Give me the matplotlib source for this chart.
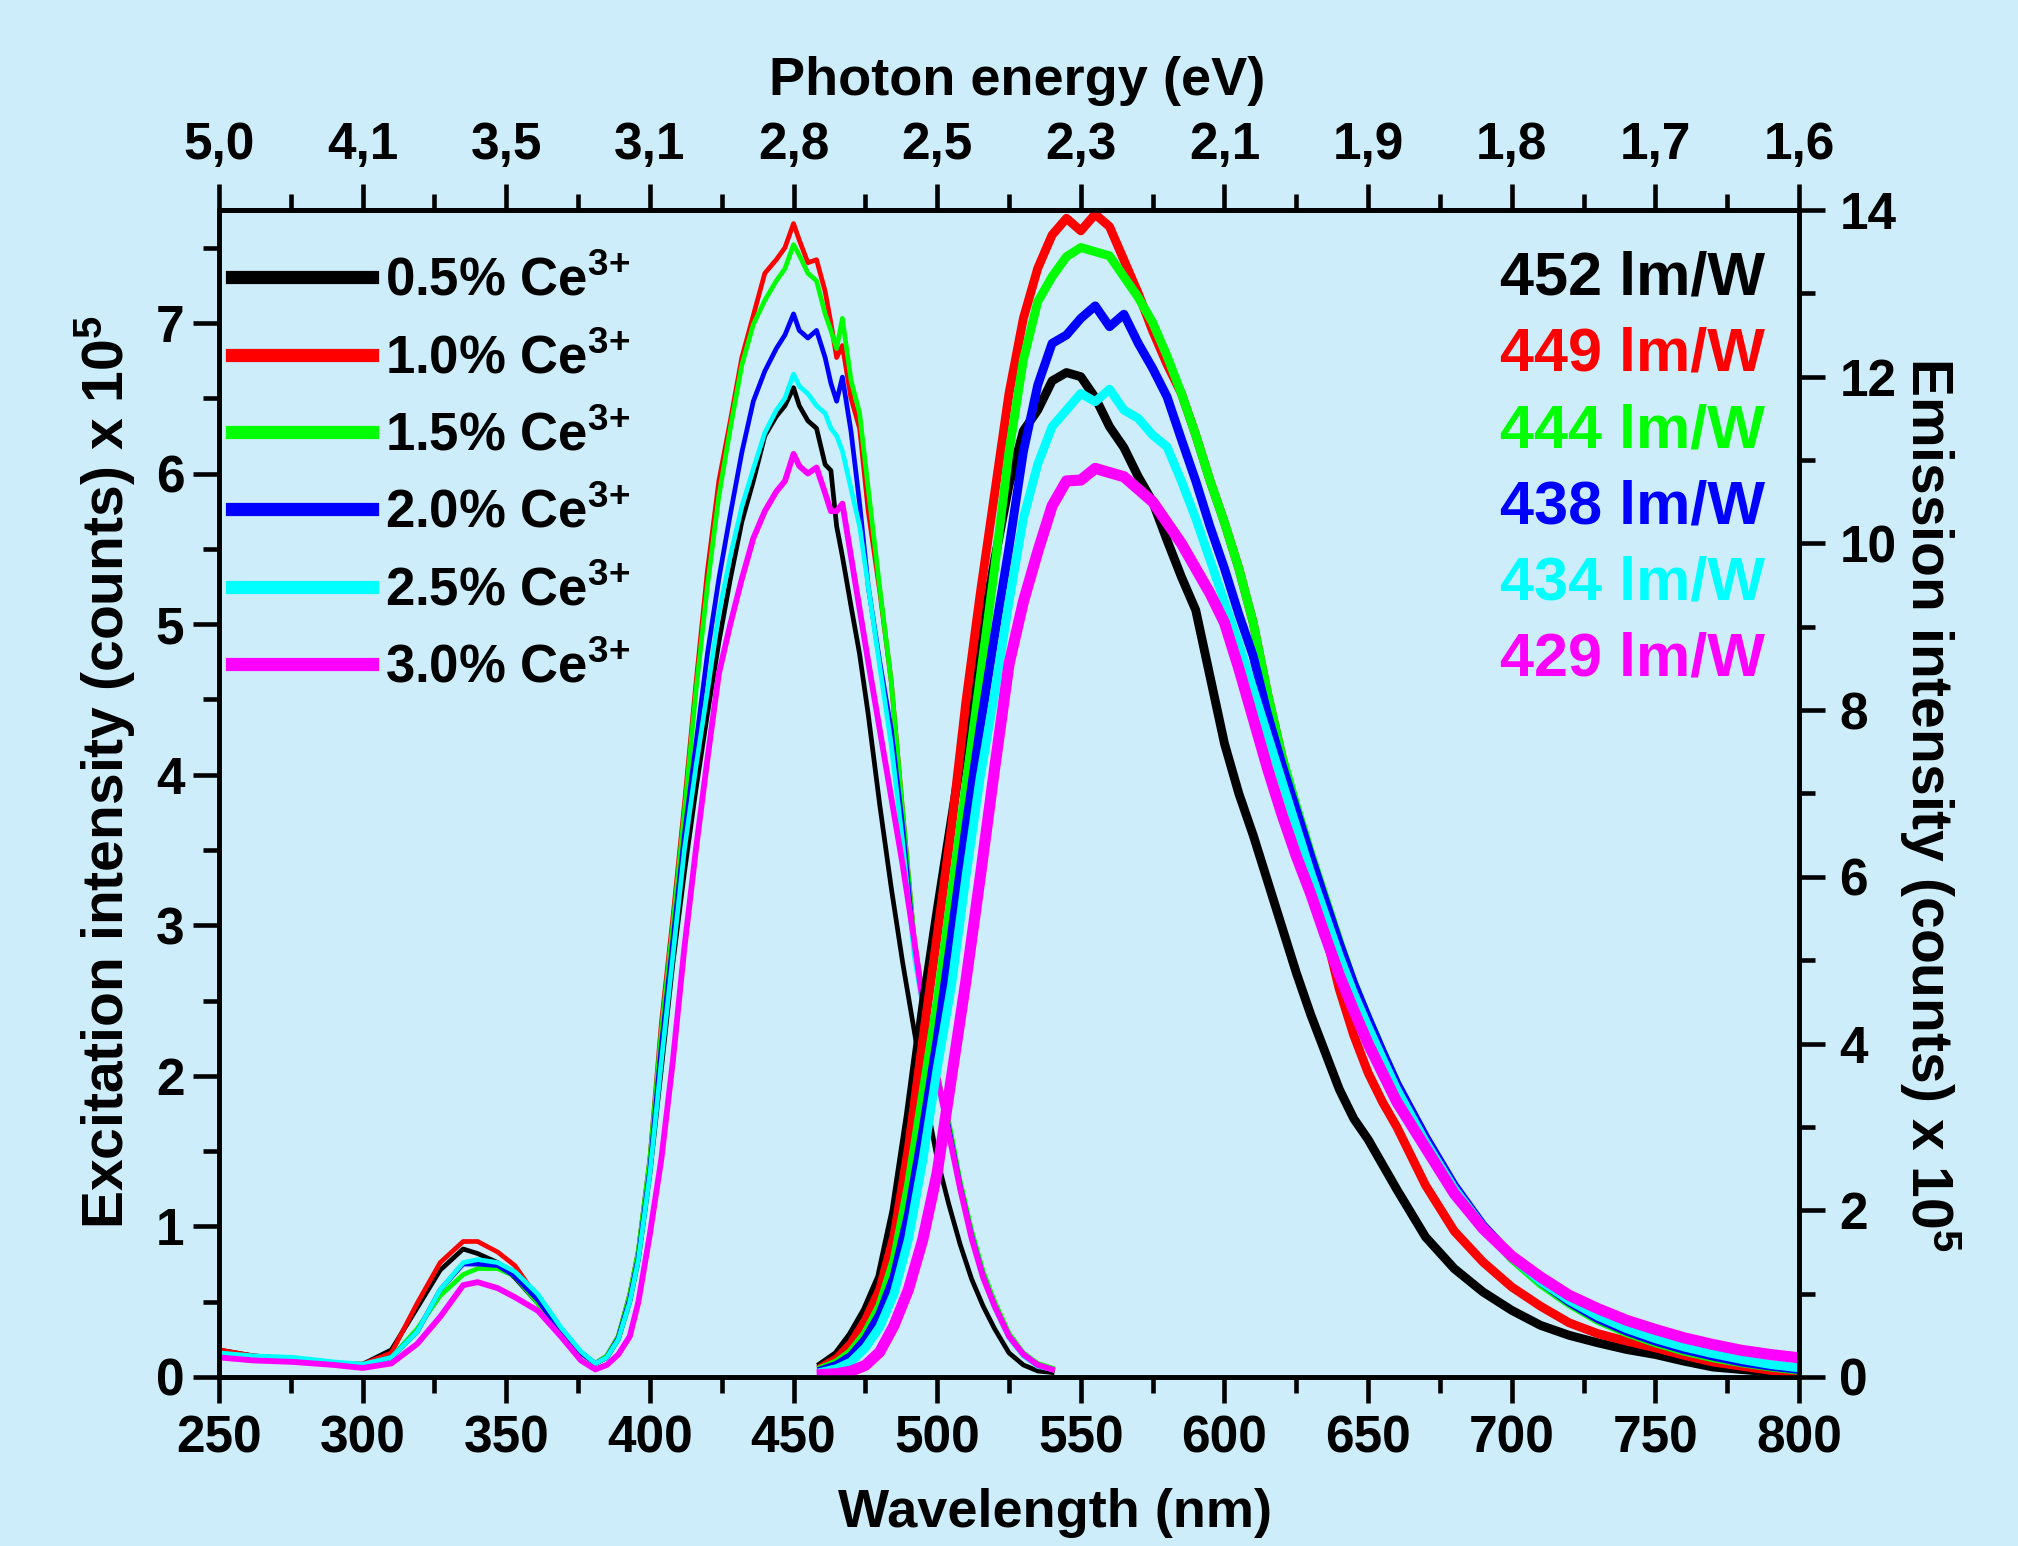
import matplotlib
matplotlib.use("Agg")
import matplotlib.pyplot as plt
from matplotlib.ticker import MultipleLocator
from matplotlib.lines import Line2D

plt.rcParams['font.family'] = ['Liberation Sans', 'DejaVu Sans']
plt.rcParams['font.weight'] = 'bold'
plt.rcParams['mathtext.fontset'] = 'custom'
plt.rcParams['mathtext.rm'] = 'Liberation Sans:bold'
plt.rcParams['mathtext.bf'] = 'Liberation Sans:bold'

bg = '#ccedf9'

# --- data ---
labels = ['0.5%', '1.0%', '1.5%', '2.0%', '2.5%', '3.0%']
colors = ['#000000', '#ff0000', '#00ff00', '#0000ff', '#00ffff', '#ff00ff']
efficacy = [452, 449, 444, 438, 434, 429]  # lm/W

# excitation spectra (left axis, x 10^5 counts)
ex_wl = [250, 262, 276, 290, 300, 310, 319, 327, 335, 340, 347, 353, 361, 369, 376, 381,
         385, 389, 393, 396, 400, 404, 408, 412, 416, 420, 424, 428, 432, 436, 440, 444, 447, 450,
         452, 455, 458, 461, 463, 465, 467, 470, 473, 476, 480, 484, 488, 492, 496, 500, 504, 508,
         512, 516, 520, 525, 530, 535, 540]
ex_black = [.18, .14, .12, .09, .085, .18, .46, .71, .85, .82, .76, .66, .49, .29, .16, .09,
            .13, .25, .50, .78, 1.35, 2.05, 2.75, 3.35, 3.9, 4.4, 4.88, 5.3, 5.68, 5.95, 6.25, 6.38, 6.45, 6.57,
            6.45, 6.35, 6.30, 6.06, 6.02, 5.65, 5.45, 5.12, 4.8, 4.4, 3.8, 3.25, 2.75, 2.3, 1.85, 1.45, 1.15, 0.88,
            0.65, 0.47, 0.32, 0.16, 0.08, 0.04, 0.03]
ex_red = [.18, .14, .12, .09, .085, .16, .49, .76, .90, .90, .83, .74, .52, .30, .16, .09,
          .14, .27, .55, .84, 1.45, 2.35, 3.05, 3.8, 4.6, 5.35, 5.95, 6.35, 6.77, 7.05, 7.33, 7.42, 7.5, 7.66,
          7.55, 7.40, 7.42, 7.21, 7.0, 6.77, 6.85, 6.5, 6.3, 5.75, 5.22, 4.62, 3.75, 2.9, 2.4, 2.0, 1.68, 1.28,
          0.95, 0.68, 0.48, 0.27, 0.15, 0.08, 0.05]
ex_green = [.16, .13, .11, .09, .08, .13, .32, .54, .68, .72, .72, .67, .49, .29, .16, .09,
            .14, .27, .55, .84, 1.45, 2.3, 3.0, 3.75, 4.55, 5.25, 5.85, 6.3, 6.72, 6.99, 7.15, 7.28, 7.36, 7.52,
            7.45, 7.33, 7.28, 7.06, 6.95, 6.83, 7.03, 6.62, 6.40, 5.90, 5.24, 4.62, 3.75, 2.9, 2.4, 2.0, 1.7, 1.3,
            0.97, 0.7, 0.5, 0.29, 0.16, 0.09, 0.06]
ex_blue = [.16, .13, .11, .09, .08, .13, .30, .58, .75, .75, .74, .67, .51, .30, .16, .09,
           .13, .26, .52, .80, 1.38, 2.2, 2.9, 3.6, 4.2, 4.8, 5.3, 5.73, 6.14, 6.48, 6.68, 6.83, 6.92, 7.06,
           6.95, 6.90, 6.95, 6.77, 6.6, 6.48, 6.64, 6.28, 5.8, 5.25, 4.75, 4.3, 3.65, 2.85, 2.38, 1.98, 1.66, 1.27,
           0.94, 0.67, 0.47, 0.27, 0.15, 0.08, 0.05]
ex_cyan = [.16, .14, .13, .10, .085, .13, .30, .58, .76, .78, .76, .70, .55, .33, .17, .09,
           .13, .25, .50, .78, 1.35, 2.1, 2.8, 3.5, 4.05, 4.55, 5.07, 5.45, 5.78, 6.03, 6.27, 6.42, 6.5, 6.66,
           6.58, 6.53, 6.45, 6.40, 6.30, 6.25, 6.15, 5.9, 5.65, 5.25, 4.72, 4.2, 3.55, 2.8, 2.35, 1.96, 1.63, 1.25,
           0.93, 0.66, 0.46, 0.26, 0.14, 0.07, 0.05]
ex_magenta = [.13, .11, .10, .08, .06, .09, .22, .40, .61, .63, .59, .53, .44, .27, .11, .05,
              .08, .15, .27, .50, .95, 1.45, 2.1, 2.85, 3.5, 4.1, 4.67, 5.0, 5.3, 5.57, 5.75, 5.88, 5.95, 6.13,
              6.05, 6.0, 6.04, 5.87, 5.75, 5.75, 5.80, 5.45, 5.1, 4.75, 4.3, 3.85, 3.4, 2.9, 2.35, 2.0, 1.62, 1.25,
              0.92, 0.66, 0.47, 0.27, 0.15, 0.08, 0.05]

# emission spectra (right axis, x 10^5 counts)
em_wl = [460, 465, 470, 475, 480, 485, 490, 495, 500, 505, 510, 515, 520, 525, 530, 535, 540, 545,
         550, 555, 560, 565, 570, 575, 580, 585, 590, 595, 600, 605, 610, 615, 620, 625, 630, 635,
         640, 645, 650, 655, 660, 670, 680, 690, 700, 710, 720, 730, 740, 750, 760, 770, 780, 790, 800]
em_black = [0.15, 0.27, 0.5, 0.8, 1.2, 2.0, 3.15, 4.45, 5.6, 6.7, 7.8, 8.8, 9.8, 10.7, 11.35, 11.6, 11.95, 12.05,
            12.0, 11.75, 11.4, 11.15, 10.8, 10.5, 10.04, 9.6, 9.2, 8.4, 7.6, 7.0, 6.5, 5.95, 5.4, 4.85, 4.35, 3.9,
            3.45, 3.1, 2.85, 2.55, 2.25, 1.68, 1.3, 1.02, 0.8, 0.62, 0.5, 0.41, 0.33, 0.27, 0.19, 0.12, 0.09, 0.06, 0.04]
em_red = [0.12, 0.22, 0.4, 0.68, 1.05, 1.7, 2.75, 4.05, 5.3, 6.6, 8.1, 9.4, 10.6, 11.8, 12.7, 13.3, 13.7, 13.9,
          13.75, 13.95, 13.8, 13.4, 13.0, 12.55, 12.15, 11.8, 11.3, 10.75, 10.25, 9.7, 9.05, 8.2, 7.45, 6.75, 6.0, 5.35,
          4.65, 4.1, 3.65, 3.3, 3.0, 2.3, 1.75, 1.38, 1.08, 0.85, 0.65, 0.52, 0.43, 0.35, 0.26, 0.18, 0.13, 0.08, 0.04]
em_green = [0.1, 0.17, 0.3, 0.52, 0.85, 1.4, 2.3, 3.4, 4.5, 5.8, 7.1, 8.4, 9.7, 11.1, 12.2, 12.9, 13.2, 13.44,
            13.55, 13.5, 13.45, 13.2, 12.95, 12.65, 12.25, 11.8, 11.3, 10.75, 10.25, 9.7, 9.05, 8.2, 7.45, 6.85, 6.28, 5.75,
            5.22, 4.72, 4.3, 3.9, 3.52, 2.85, 2.28, 1.8, 1.42, 1.12, 0.88, 0.68, 0.53, 0.41, 0.31, 0.23, 0.17, 0.12, 0.08]
em_blue = [0.08, 0.14, 0.25, 0.45, 0.75, 1.2, 1.95, 2.95, 4.05, 5.3, 6.6, 7.8, 8.9, 9.95, 11.1, 11.9, 12.4, 12.5,
           12.7, 12.85, 12.6, 12.75, 12.4, 12.1, 11.76, 11.25, 10.75, 10.2, 9.7, 9.15, 8.65, 7.95, 7.35, 6.8, 6.25, 5.72,
           5.2, 4.72, 4.3, 3.9, 3.52, 2.88, 2.3, 1.82, 1.45, 1.15, 0.9, 0.7, 0.55, 0.43, 0.33, 0.25, 0.18, 0.13, 0.09]
em_cyan = [0.06, 0.1, 0.18, 0.35, 0.6, 1.0, 1.65, 2.6, 3.7, 4.7, 6.0, 7.2, 8.2, 9.3, 10.3, 10.95, 11.4, 11.6,
           11.8, 11.7, 11.85, 11.6, 11.5, 11.3, 11.16, 10.75, 10.3, 9.8, 9.3, 8.8, 8.25, 7.7, 7.15, 6.6, 6.05, 5.55,
           5.05, 4.6, 4.2, 3.82, 3.45, 2.82, 2.26, 1.8, 1.44, 1.15, 0.92, 0.73, 0.58, 0.46, 0.36, 0.28, 0.21, 0.15, 0.11]
em_magenta = [0.03, 0.04, 0.07, 0.14, 0.3, 0.62, 1.05, 1.65, 2.45, 3.6, 4.75, 6.0, 7.3, 8.55, 9.3, 9.9, 10.45, 10.75,
              10.76, 10.9, 10.85, 10.8, 10.65, 10.5, 10.25, 10.0, 9.7, 9.4, 9.05, 8.5, 7.9, 7.3, 6.75, 6.25, 5.8, 5.3,
              4.82, 4.4, 4.0, 3.65, 3.3, 2.75, 2.2, 1.78, 1.45, 1.2, 0.98, 0.82, 0.68, 0.57, 0.47, 0.39, 0.32, 0.27, 0.23]

ex_all = [ex_black, ex_red, ex_green, ex_blue, ex_cyan, ex_magenta]
em_all = [em_black, em_red, em_green, em_blue, em_cyan, em_magenta]

wl_ticks = [250, 300, 350, 400, 450, 500, 550, 600, 650, 700, 750, 800]
ev_labels = [f"{1240 / w:.1f}".replace('.', ',') for w in wl_ticks]

# --- figure ---
fig = plt.figure(figsize=(20.18, 15.46), dpi=100, facecolor=bg)
ax = fig.add_axes([219 / 2018, 1 - 1377 / 1546, (1799 - 219) / 2018, (1377 - 210) / 1546])
ax.set_facecolor(bg)
ax2 = ax.twinx()

for i in range(6):
    lw = 4.2 if i == 5 else 3.4
    ax.plot(ex_wl, ex_all[i], color=colors[i], lw=lw, solid_joinstyle='round')
for i in range(6):
    lw = 8.0 if i == 5 else 6.4
    ax2.plot(em_wl, em_all[i], color=colors[i], lw=lw, solid_joinstyle='round')

ax.set_xlim(250, 800)
ax.set_ylim(0, 7.75)
ax2.set_ylim(0, 14)

ax.set_xticks(wl_ticks)
ax.xaxis.set_minor_locator(MultipleLocator(25))
ax.yaxis.set_major_locator(MultipleLocator(1))
ax.yaxis.set_minor_locator(MultipleLocator(0.5))
ax2.yaxis.set_major_locator(MultipleLocator(2))
ax2.yaxis.set_minor_locator(MultipleLocator(1))

top = ax.secondary_xaxis('top')
top.set_xticks(wl_ticks)
top.set_xticklabels(ev_labels)
top.xaxis.set_minor_locator(MultipleLocator(25))

for a in (ax, ax2, top):
    for s in a.spines.values():
        s.set_linewidth(3.3)
    a.tick_params(which='major', direction='out', length=19, width=3.3, labelsize=37)
    a.tick_params(which='minor', direction='out', length=11.5, width=3.3)
ax.tick_params(axis='x', pad=8)
ax.tick_params(axis='y', pad=6)
ax2.tick_params(axis='y', pad=10)
top.tick_params(axis='x', pad=10)

# axis titles
fig.text(1055 / 2018, 1 - 1527 / 1546, 'Wavelength (nm)', ha='center', va='baseline', fontsize=39)
fig.text(1017 / 2018, 1 - 95 / 1546, 'Photon energy (eV)', ha='center', va='baseline', fontsize=39)
fig.text(105 / 2018, 1 - 772 / 1546, r'Excitation intensity (counts) x 10$^{\mathbf{5}}$',
         rotation=90, ha='center', va='center', fontsize=41)
fig.text(1930 / 2018, 1 - 804 / 1546, r'Emission intensity (counts) x 10$^{\mathbf{5}}$',
         rotation=270, ha='center', va='center', fontsize=41)

# legend
handles = [Line2D([], [], color=c, lw=9.5) for c in colors]
leg_labels = [lab + r' Ce$^{\mathbf{3}\mathbf{{+}}}$' for lab in labels]
ax2.legend(handles, leg_labels, loc='upper left', bbox_to_anchor=(232 / 2018, 1 - 256 / 1546),
           bbox_transform=fig.transFigure, frameon=False, fontsize=38, handlelength=2.65,
           handletextpad=0.25, labelspacing=0.5, borderpad=0, borderaxespad=0)

# luminous efficacy labels
for i in range(6):
    fig.text(1765 / 2018, 1 - (295 + 76 * i) / 1546, f'{efficacy[i]} lm/W', color=colors[i],
             ha='right', va='baseline', fontsize=44)

fig.savefig('out.png', dpi=100, facecolor=bg)
